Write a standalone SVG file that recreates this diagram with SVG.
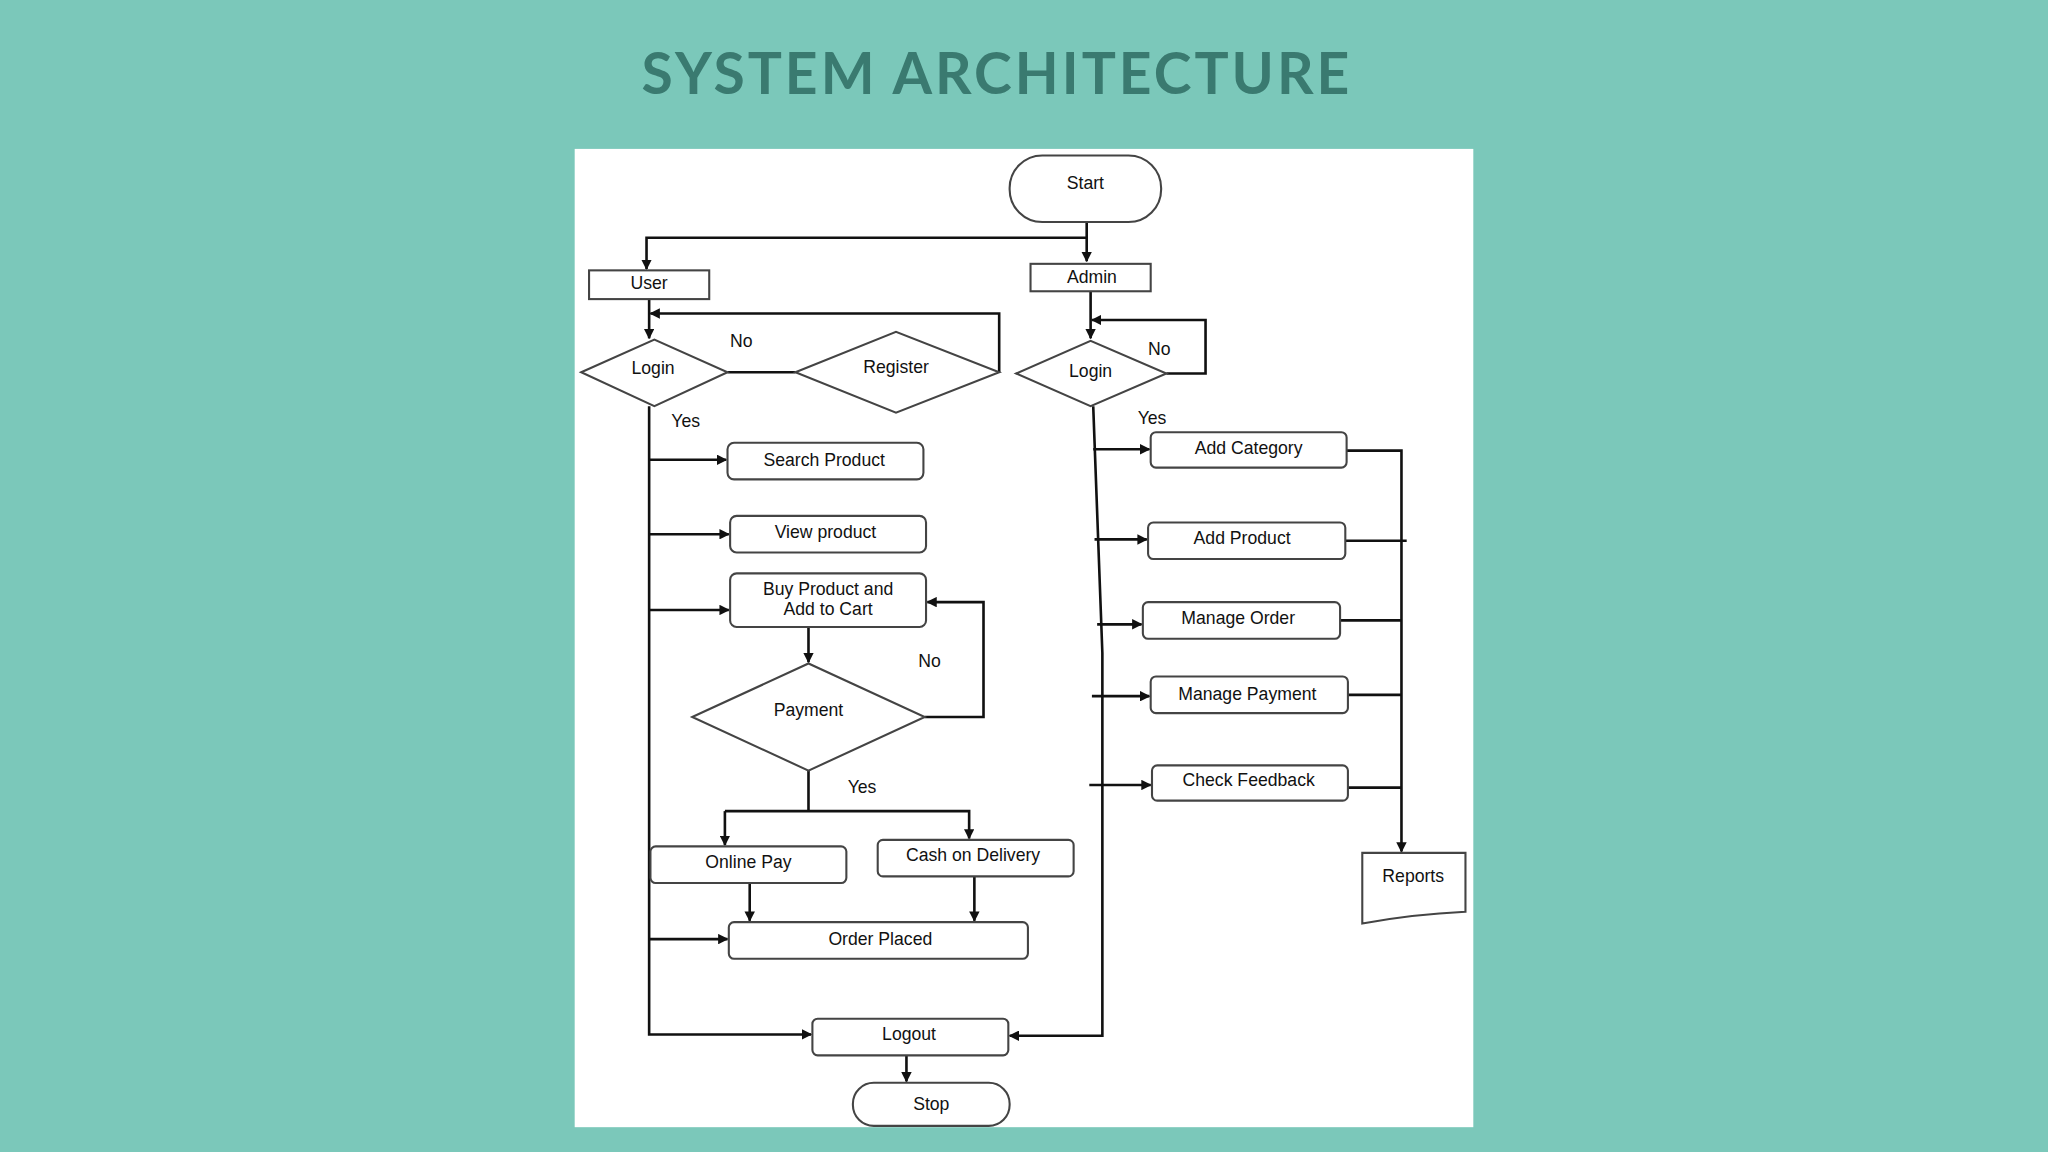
<svg xmlns="http://www.w3.org/2000/svg" width="2048" height="1152" viewBox="0 0 2048 1152">
<defs>
<marker id="ar" viewBox="0 0 10 10" refX="9" refY="5" markerWidth="4" markerHeight="4" orient="auto"><path d="M0,0L10,5L0,10z" fill="#111"/></marker>
<style>
.n{fill:#fff;stroke:#444;stroke-width:1.6}
.t{font-family:"Liberation Sans",Arial,sans-serif;font-size:13.5px;fill:#111;text-anchor:middle;dominant-baseline:middle}
.l{font-family:"Liberation Sans",Arial,sans-serif;font-size:13.5px;fill:#111}
.c{fill:none;stroke:#111;stroke-width:2}
.a{marker-end:url(#ar)}
</style>
</defs>
<rect width="2048" height="1152" fill="#7BC8BA"/>
<text x="997" y="94" font-family="Lato,'Open Sans',sans-serif" font-weight="bold" font-size="57" fill="#3A7A70" text-anchor="middle" letter-spacing="3">SYSTEM ARCHITECTURE</text>
<g transform="scale(1.30612)">
<rect x="440" y="114" width="688" height="749" fill="#fff"/>
<g id="connectors">
<path class="c a" d="M832,170V200"/>
<path class="c a" d="M832,182H495V206"/>
<path class="c a" d="M497,229V259"/>
<path class="c a" d="M765,285V240H498"/>
<path class="c" d="M557,285H609"/>
<path class="c a" d="M497,311V792H621"/>
<path class="c a" d="M497,352H556"/>
<path class="c a" d="M497,409H558"/>
<path class="c a" d="M497,467H558"/>
<path class="c a" d="M497,719H557"/>
<path class="c a" d="M619,480V507"/>
<path class="c a" d="M708,549H753V461H710"/>
<path class="c" d="M619,590V621"/>
<path class="c a" d="M555,621H742V642"/>
<path class="c a" d="M555,621V647"/>
<path class="c a" d="M574,676V705"/>
<path class="c a" d="M746,671V705"/>
<path class="c a" d="M694,808V828"/>
<path class="c a" d="M835,223V259"/>
<path class="c a" d="M893,286H923V245H836"/>
<path class="c a" d="M837,311L844,500V793H773"/>
<path class="c a" d="M837,344H880"/>
<path class="c a" d="M838,413H878"/>
<path class="c a" d="M840,478H874"/>
<path class="c a" d="M836,533H880"/>
<path class="c a" d="M834,601H881"/>
<path class="c a" d="M1031,345H1073V652"/>
<path class="c" d="M1030,414H1077"/>
<path class="c" d="M1026,475H1073"/>
<path class="c" d="M1032,532H1073"/>
<path class="c" d="M1032,603H1073"/>
</g>
<g id="start"><rect class="n" x="773" y="119" width="116" height="51" rx="25"/><text class="t" x="831" y="141">Start</text></g>
<g id="user"><rect class="n" x="451" y="207" width="92" height="22"/><text class="t" x="497" y="218">User</text></g>
<g id="admin"><rect class="n" x="789" y="202" width="92" height="21"/><text class="t" x="836" y="213">Admin</text></g>
<g id="login-user"><path class="n" d="M445,285L501,260L557,285L501,311z"/><text class="t" x="500" y="283">Login</text></g>
<g id="register"><path class="n" d="M609,285L686,254L765,285L686,316z"/><text class="t" x="686" y="282">Register</text></g>
<g id="login-admin"><path class="n" d="M778,286L835,261L893,286L835,311z"/><text class="t" x="835" y="285">Login</text></g>
<text class="l" x="559" y="266">No</text>
<text class="l" x="514" y="327">Yes</text>
<text class="l" x="879" y="272">No</text>
<text class="l" x="871" y="325">Yes</text>
<text class="l" x="703" y="511">No</text>
<text class="l" x="649" y="607">Yes</text>
<g id="search"><rect class="n" x="557" y="339" width="150" height="28" rx="5"/><text class="t" x="631" y="353">Search Product</text></g>
<g id="view"><rect class="n" x="559" y="395" width="150" height="28" rx="5"/><text class="t" x="632" y="408">View product</text></g>
<g id="buy"><rect class="n" x="559" y="439" width="150" height="41" rx="5"/><text class="t" x="634" y="452">Buy Product and</text><text class="t" x="634" y="467">Add to Cart</text></g>
<g id="payment"><path class="n" d="M530,549L619,508L708,549L619,590z"/><text class="t" x="619" y="545">Payment</text></g>
<g id="online"><rect class="n" x="498" y="648" width="150" height="28" rx="4"/><text class="t" x="573" y="661">Online Pay</text></g>
<g id="cod"><rect class="n" x="672" y="643" width="150" height="28" rx="4"/><text class="t" x="745" y="656">Cash on Delivery</text></g>
<g id="order"><rect class="n" x="558" y="706" width="229" height="28" rx="4"/><text class="t" x="674" y="720">Order Placed</text></g>
<g id="logout"><rect class="n" x="622" y="780" width="150" height="28" rx="4"/><text class="t" x="696" y="793">Logout</text></g>
<g id="stop"><rect class="n" x="653" y="829" width="120" height="33" rx="16"/><text class="t" x="713" y="846">Stop</text></g>
<g id="addcat"><rect class="n" x="881" y="331" width="150" height="27" rx="4"/><text class="t" x="956" y="344">Add Category</text></g>
<g id="addprod"><rect class="n" x="879" y="400" width="151" height="28" rx="4"/><text class="t" x="951" y="413">Add Product</text></g>
<g id="mgorder"><rect class="n" x="875" y="461" width="151" height="28" rx="4"/><text class="t" x="948" y="474">Manage Order</text></g>
<g id="mgpay"><rect class="n" x="881" y="518" width="151" height="28" rx="4"/><text class="t" x="955" y="532">Manage Payment</text></g>
<g id="feedback"><rect class="n" x="882" y="586" width="150" height="27" rx="4"/><text class="t" x="956" y="598">Check Feedback</text></g>
<g id="reports"><path class="n" d="M1043,653H1122V698C1100,699 1070,702 1043,707z"/><text class="t" x="1082" y="672">Reports</text></g>
</g>
</svg>
